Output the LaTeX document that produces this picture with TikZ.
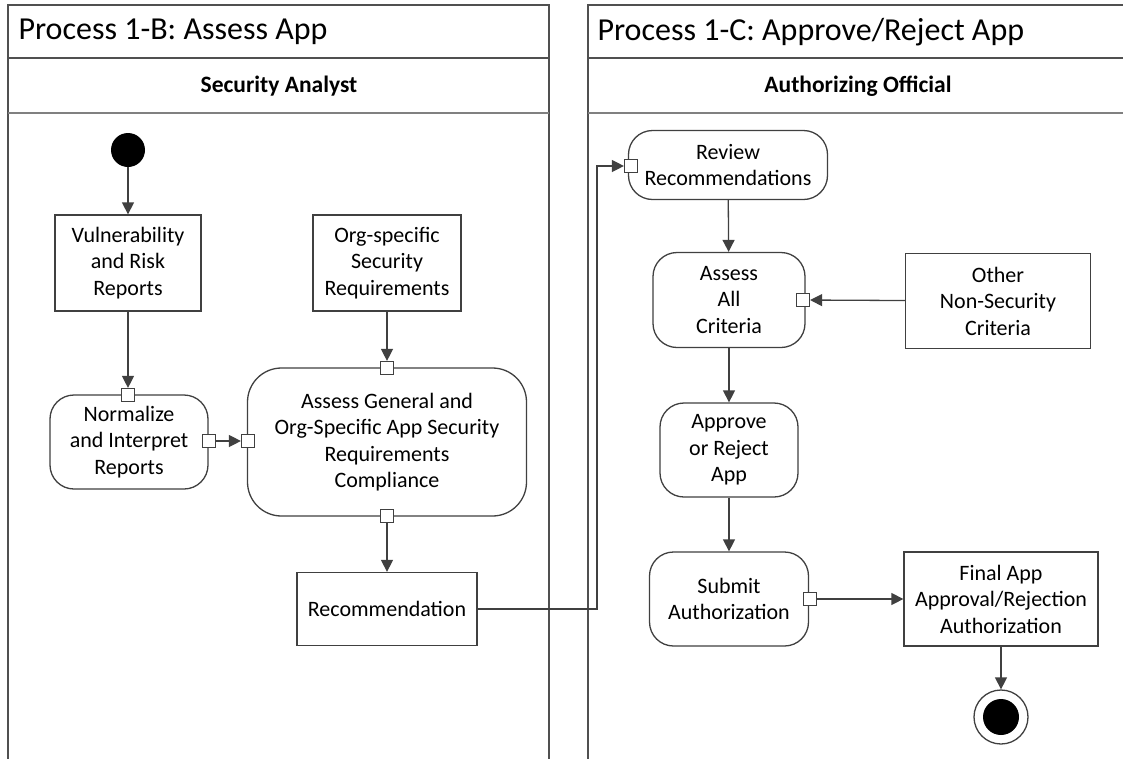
\documentclass[tikz,border=0pt]{standalone}
\usepackage{fontspec}
\setmainfont{Carlito}
\usetikzlibrary{arrows.meta,calc}
\definecolor{ln}{HTML}{404040}
\definecolor{pl}{HTML}{505050}
\begin{document}
\begin{tikzpicture}[x=1pt,y=-1pt,
  every node/.style={font=\fontsize{22}{26.5}\selectfont, text=black},
  obj/.style={draw=ln, line width=1.3pt, fill=white, align=center, inner sep=0pt},
  act/.style={draw=ln, line width=1.3pt, fill=white, align=center, rounded corners=24pt, inner sep=0pt},
  portbox/.style={draw=ln, line width=1.2pt, fill=white, minimum size=13pt, inner sep=0pt},
  arr/.style={draw=ln, line width=1.3pt, -{Triangle[length=12pt,width=12pt]}},
  pool/.style={draw=pl, line width=1.6pt},
  ttl/.style={font=\fontsize{32}{38}\selectfont, anchor=west},
  hdr/.style={font=\bfseries\fontsize{23.5}{28}\selectfont}]
\clip (0,0) rectangle (1123,758);
\fill[white] (0,0) rectangle (1123,758);
% pools
\draw[pool] (8,800) -- (8,5) -- (549,5) -- (549,800);
\draw[pool] (8,58) -- (549,58);
\draw[pool, draw=gray] (8,113) -- (549,113);
\draw[pool] (588,800) -- (588,5) -- (1140,5);
\draw[pool] (588,58) -- (1140,58);
\draw[pool, draw=gray] (588,113) -- (1140,113);
\node[ttl] (t1) at (15,32) {Process 1-B: Assess App};
\node[ttl] (t2) at (594,32) {Process 1-C: Approve/Reject App};
\node[hdr] (h1) at (279,86) {Security Analyst};
\node[hdr] (h2) at (858,86) {Authorizing Official};
% left lane
\node[circle, fill=black, minimum size=34pt, inner sep=0pt] (start) at (128,150) {};
\node[obj, minimum width=146pt, minimum height=96pt] (vuln) at (128,263) {Vulnerability\\and Risk\\Reports};
\node[obj, minimum width=148pt, minimum height=96pt] (org) at (387,263) {Org-specific\\Security\\Requirements};
\node[act, minimum width=158pt, minimum height=94pt] (norm) at (129,442) {Normalize\\and Interpret\\Reports};
\node[act, rounded corners=34pt, minimum width=279pt, minimum height=148pt] (asg) at (387,442) {Assess General and\\Org-Specific App Security\\Requirements\\Compliance};
\node[obj, minimum width=180pt, minimum height=73pt] (rec) at (387,609) {Recommendation};
\node[portbox] (pNt) at (128,395) {};
\node[portbox] (pNr) at (209,441) {};
\node[portbox] (pAt) at (387,368) {};
\node[portbox] (pAl) at (248,441) {};
\node[portbox] (pAb) at (387,516) {};
% right lane
\node[act, minimum width=199pt, minimum height=69pt] (rev) at (728,165) {Review\\Recommendations};
\node[act, minimum width=152pt, minimum height=95pt] (aall) at (729,300) {Assess\\All\\Criteria};
\node[obj, minimum width=185pt, minimum height=95pt] (oth) at (998,301) {Other\\Non-Security\\Criteria};
\node[act, minimum width=138pt, minimum height=94pt] (appr) at (729,450) {Approve\\or Reject\\App};
\node[act, minimum width=159pt, minimum height=94pt] (sub) at (729,599) {Submit\\Authorization};
\node[obj, minimum width=194pt, minimum height=94pt] (fin) at (1001,599) {Final App\\Approval/Rejection\\Authorization};
\node[circle, draw=ln, line width=1.3pt, fill=white, minimum size=54pt, inner sep=0pt] (endo) at (1001,717) {};
\node[circle, fill=black, minimum size=36pt, inner sep=0pt] (endi) at (1001,717) {};
\node[portbox] (pRl) at (631,166) {};
\node[portbox] (pSr) at (803,300) {};
\node[portbox] (pUr) at (810,599) {};
% connectors
\draw[arr] (start) -- (vuln);
\draw[arr] (vuln) -- (pNt);
\draw[arr] (org) -- (pAt);
\draw[arr] (pNr) -- (pAl);
\draw[arr] (pAb) -- (rec);
\coordinate (jog) at (597,166);
\draw[arr] (rec.east) -| (jog) -- (pRl);
\draw[arr] (rev) -- (aall);
\draw[arr] (oth) -- (pSr);
\draw[arr] (aall) -- (appr);
\draw[arr] (appr) -- (sub);
\draw[arr] (pUr) -- (fin);
\draw[arr] (fin) -- (endo);
\end{tikzpicture}
\end{document}
